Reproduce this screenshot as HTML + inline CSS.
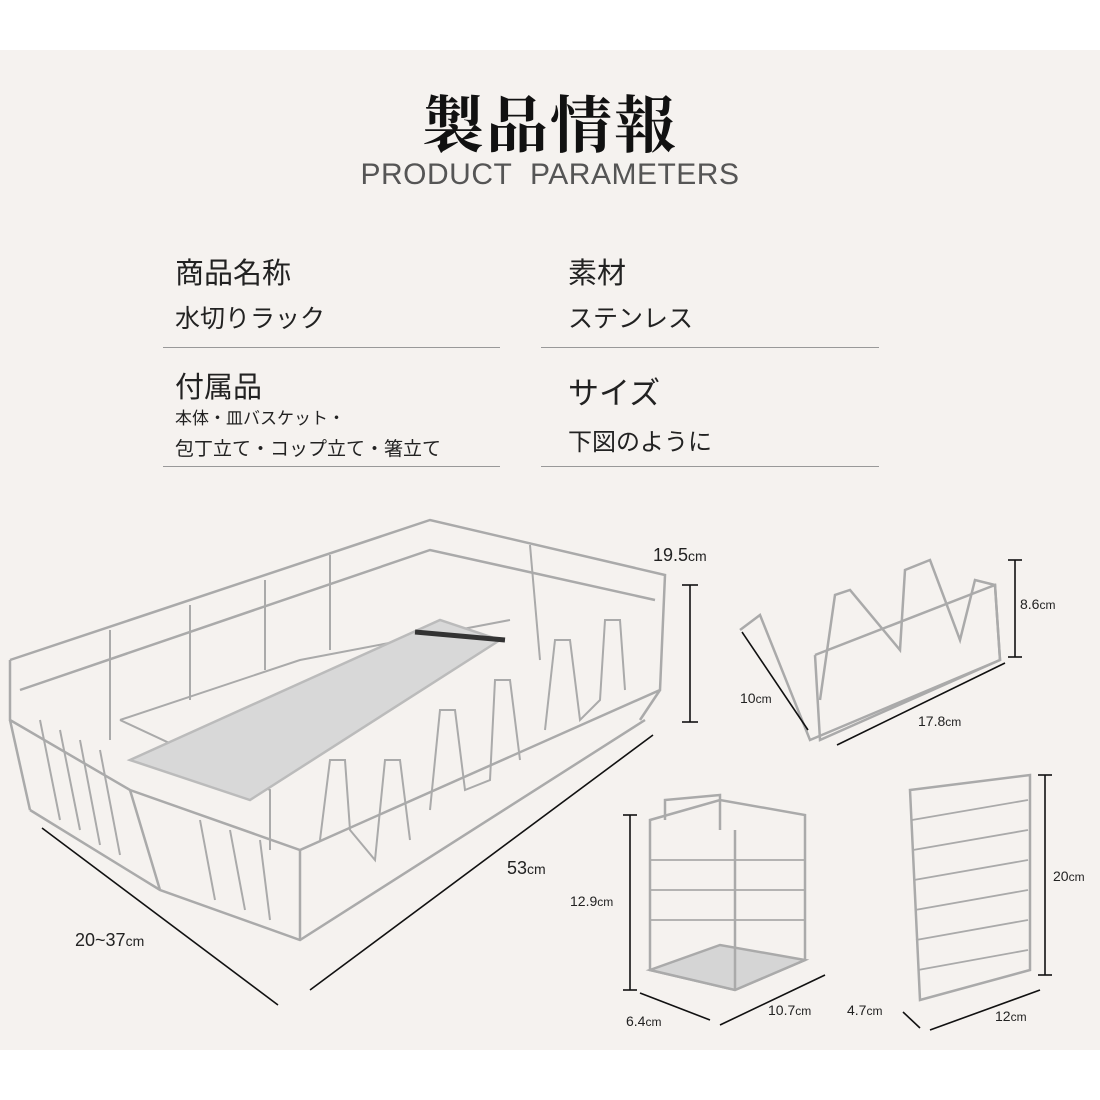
<!DOCTYPE html>
<html><head><meta charset="utf-8"><style>
body{margin:0;width:1100px;height:1100px;background:#fff;position:relative;overflow:hidden;font-family:"Liberation Sans","Noto Sans CJK JP",sans-serif;color:#222}
.band{position:absolute;left:0;top:50px;width:1100px;height:1000px;background:#f5f2ef}
.t{position:absolute;white-space:nowrap}
.hr{position:absolute;height:1px;background:#999}
</style></head><body>
<div class="band"></div>
<div class="t" style="left:0;width:1100px;text-align:center;top:76px;font:700 62px 'Noto Serif CJK SC',serif;color:#111;letter-spacing:2px">製品情報</div>
<div class="t" style="left:0;width:1100px;text-align:center;top:158px;font-size:30px;color:#555;letter-spacing:0.5px">PRODUCT&nbsp; PARAMETERS</div>

<div class="t" style="left:175px;top:250px;font-size:29px">商品名称</div>
<div class="t" style="left:175px;top:299px;font-size:25px">水切りラック</div>
<div class="hr" style="left:163px;top:347px;width:337px"></div>
<div class="t" style="left:175px;top:364px;font-size:29px">付属品</div>
<div class="t" style="left:175px;top:404px;font-size:17px">本体・皿バスケット・</div>
<div class="t" style="left:175px;top:434px;font-size:19px">包丁立て・コップ立て・箸立て</div>
<div class="hr" style="left:163px;top:466px;width:337px"></div>

<div class="t" style="left:568px;top:250px;font-size:29px">素材</div>
<div class="t" style="left:568px;top:299px;font-size:25px">ステンレス</div>
<div class="hr" style="left:541px;top:347px;width:338px"></div>
<div class="t" style="left:568px;top:368px;font-size:31px">サイズ</div>
<div class="t" style="left:568px;top:422px;font-size:24px">下図のように</div>
<div class="hr" style="left:541px;top:466px;width:338px"></div>

<svg style="position:absolute;left:0;top:0" width="1100" height="1100">
<g stroke="#aaa" stroke-width="2.5" fill="none">
<polyline points="10,660 430,520 665,575 660,690 300,850 130,790 10,720 10,660"/>
<polyline points="20,690 430,550 655,600"/>
<line x1="10" y1="720" x2="30" y2="810"/><line x1="130" y1="790" x2="160" y2="890"/>
<line x1="300" y1="850" x2="300" y2="940"/><line x1="660" y1="690" x2="640" y2="720"/>
<polyline points="30,810 160,890 300,940 645,720"/>
<g stroke-width="2">
<line x1="110" y1="630" x2="110" y2="740"/><line x1="190" y1="605" x2="190" y2="700"/><line x1="265" y1="580" x2="265" y2="670"/><line x1="330" y1="555" x2="330" y2="650"/>
<line x1="40" y1="720" x2="60" y2="820"/><line x1="60" y1="730" x2="80" y2="830"/><line x1="80" y1="740" x2="100" y2="845"/><line x1="100" y1="750" x2="120" y2="855"/>
<line x1="200" y1="820" x2="215" y2="900"/><line x1="230" y1="830" x2="245" y2="910"/><line x1="260" y1="840" x2="270" y2="920"/>
<polyline points="320,840 330,760 345,760 350,830 375,860 385,760 400,760 410,840"/>
<polyline points="430,810 440,710 455,710 465,790 490,780 495,680 510,680 520,760"/>
<polyline points="545,730 555,640 570,640 580,720 600,700 605,620 620,620 625,690"/>
<polyline points="120,720 270,790 270,850"/>
<polyline points="120,720 300,660 510,620"/>
<line x1="530" y1="545" x2="540" y2="660"/>
</g>
<polygon points="130,760 440,620 500,640 250,800" fill="#d8d8d8" stroke="#bbb"/>
<line x1="415" y1="632" x2="505" y2="640" stroke="#333" stroke-width="5"/>
<polyline points="740,630 760,615 810,740 1000,660 995,585 975,580 960,640 930,560 905,570 900,650 850,590 835,595 820,700"/>
<polyline points="815,655 995,585 1000,660 820,740 815,655"/>
<polygon points="650,970 735,990 805,960 805,815 720,800 650,820" />
<polygon points="650,970 735,990 805,960 720,945" fill="#d5d5d5"/>
<line x1="735" y1="990" x2="735" y2="830"/><polyline points="665,820 665,800 720,795 720,830"/>
<g stroke-width="1.8"><line x1="650" y1="860" x2="805" y2="860"/><line x1="650" y1="890" x2="805" y2="890"/><line x1="650" y1="920" x2="805" y2="920"/></g>
<polygon points="910,790 1030,775 1030,970 920,1000 910,790"/>
<g stroke-width="1.8"><line x1="912" y1="820" x2="1028" y2="800"/><line x1="913" y1="850" x2="1028" y2="830"/><line x1="914" y1="880" x2="1028" y2="860"/><line x1="915" y1="910" x2="1028" y2="890"/><line x1="916" y1="940" x2="1028" y2="920"/><line x1="918" y1="970" x2="1028" y2="950"/></g>
</g>
<g stroke="#111" stroke-width="1.6">
<line x1="690" y1="585" x2="690" y2="722"/><line x1="682" y1="585" x2="698" y2="585"/><line x1="682" y1="722" x2="698" y2="722"/>
<line x1="42" y1="828" x2="278" y2="1005"/><line x1="310" y1="990" x2="653" y2="735"/>
<line x1="1015" y1="560" x2="1015" y2="657"/><line x1="1008" y1="560" x2="1022" y2="560"/><line x1="1008" y1="657" x2="1022" y2="657"/>
<line x1="742" y1="632" x2="808" y2="730"/><line x1="837" y1="745" x2="1005" y2="663"/>
<line x1="630" y1="815" x2="630" y2="990"/><line x1="623" y1="815" x2="637" y2="815"/><line x1="623" y1="990" x2="637" y2="990"/>
<line x1="640" y1="993" x2="710" y2="1020"/><line x1="720" y1="1025" x2="825" y2="975"/>
<line x1="1045" y1="775" x2="1045" y2="975"/><line x1="1038" y1="775" x2="1052" y2="775"/><line x1="1038" y1="975" x2="1052" y2="975"/>
<line x1="903" y1="1012" x2="920" y2="1028"/><line x1="930" y1="1030" x2="1040" y2="990"/>
</g>
</svg>
<div class="t" style="left:653px;top:545px;font-size:18px">19.5<span style="font-size:14px">cm</span></div>
<div class="t" style="left:507px;top:858px;font-size:18px">53<span style="font-size:14px">cm</span></div>
<div class="t" style="left:75px;top:930px;font-size:18px">20~37<span style="font-size:14px">cm</span></div>
<div class="t" style="left:1020px;top:596px;font-size:14px">8.6<span style="font-size:12px">cm</span></div>
<div class="t" style="left:740px;top:690px;font-size:14px">10<span style="font-size:12px">cm</span></div>
<div class="t" style="left:918px;top:713px;font-size:14px">17.8<span style="font-size:12px">cm</span></div>
<div class="t" style="left:570px;top:893px;font-size:14px">12.9<span style="font-size:12px">cm</span></div>
<div class="t" style="left:626px;top:1013px;font-size:14px">6.4<span style="font-size:12px">cm</span></div>
<div class="t" style="left:768px;top:1002px;font-size:14px">10.7<span style="font-size:12px">cm</span></div>
<div class="t" style="left:1053px;top:868px;font-size:14px">20<span style="font-size:12px">cm</span></div>
<div class="t" style="left:847px;top:1002px;font-size:14px">4.7<span style="font-size:12px">cm</span></div>
<div class="t" style="left:995px;top:1008px;font-size:14px">12<span style="font-size:12px">cm</span></div>
</body></html>
